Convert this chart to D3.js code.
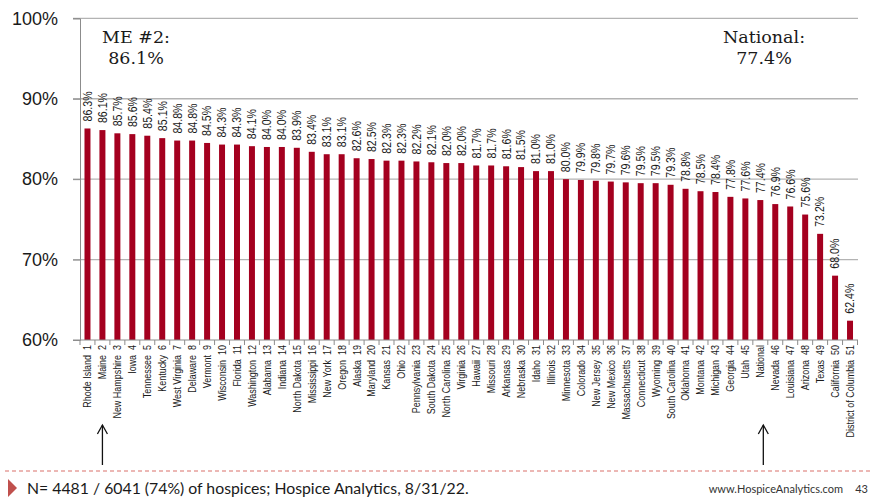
<!DOCTYPE html>
<html><head><meta charset="utf-8">
<script src="https://cdn.jsdelivr.net/npm/d3@7"></script>
<style>body{margin:0;background:#fff;} svg{display:block;}</style>
</head><body>
<svg id="chart" width="870" height="504"></svg>
<script>
const categories = ["Rhode Island 1","Maine 2","New Hampshire 3","Iowa 4","Tennessee 5","Kentucky 6","West Virginia 7","Delaware 8","Vermont 9","Wisconsin 10","Florida 11","Washington 12","Alabama 13","Indiana 14","North Dakota 15","Mississippi 16","New York 17","Oregon 18","Alaska 19","Maryland 20","Kansas 21","Ohio 22","Pennsylvania 23","South Dakota 24","North Carolina 25","Virginia 26","Hawaii 27","Missouri 28","Arkansas 29","Nebraska 30","Idaho 31","Illinois 32","Minnesota 33","Colorado 34","New Jersey 35","New Mexico 36","Massachusetts 37","Connecticut 38","Wyoming 39","South Carolina 40","Oklahoma 41","Montana 42","Michigan 43","Georgia 44","Utah 45","National","Nevada 46","Louisiana 47","Arizona 48","Texas 49","California 50","District of Columbia 51"];
const values = [86.3,86.1,85.7,85.6,85.4,85.1,84.8,84.8,84.5,84.3,84.3,84.1,84.0,84.0,83.9,83.4,83.1,83.1,82.6,82.5,82.3,82.3,82.2,82.1,82.0,82.0,81.7,81.7,81.6,81.5,81.0,81.0,80.0,79.9,79.8,79.7,79.6,79.5,79.5,79.3,78.8,78.5,78.4,77.8,77.6,77.4,76.9,76.6,75.6,73.2,68.0,62.4];
const yTicks = [60,70,80,90,100];
const annotations = [{cat:"Maine 2", lines:["ME #2:","86.1%"], cx:136},{cat:"National", lines:["National:","77.4%"], cx:764}];
const footerText = "N= 4481 / 6041 (74%) of hospices; Hospice Analytics, 8/31/22.";
const siteText = "www.HospiceAnalytics.com";
const pageNum = "43";

const svg = d3.select("#chart");
const x = d3.scaleBand().domain(categories).range([80, 857.5]).paddingInner(0.6).paddingOuter(0.3);
const y = d3.scaleLinear().domain([60, 100]).range([340, 18.3]);
const barColor = "#a4001f";

// gridlines
svg.append("g").selectAll("line").data(yTicks.filter(d=>d>60)).join("line")
  .attr("x1",73).attr("x2",858).attr("y1",d=>y(d)).attr("y2",d=>y(d))
  .attr("stroke","#b3b3b3").attr("stroke-width",1.3);

// y axis
const yAxis = d3.axisLeft(y).tickValues(yTicks).tickSize(7).tickPadding(15).tickFormat(d=>d+"%");
const ya = svg.append("g").attr("transform","translate(80,0)").call(yAxis);
ya.select(".domain").attr("stroke","#8c8c8c");
ya.selectAll(".tick line").attr("stroke","#8c8c8c");
ya.selectAll("text").attr("font-family","Liberation Sans, Arial, sans-serif").attr("font-size",18).attr("fill","#1a1a1a");

// bars
svg.append("g").selectAll("rect").data(categories).join("rect")
  .attr("x",d=>x(d)).attr("width",x.bandwidth())
  .attr("y",(d,i)=>y(values[i])).attr("height",(d,i)=>y(60)-y(values[i]))
  .attr("fill",barColor);

// x axis baseline and ticks
svg.append("line").attr("x1",73).attr("x2",858).attr("y1",y(60)).attr("y2",y(60)).attr("stroke","#8c8c8c");
const bounds = categories.map(d=>x(d)+x.bandwidth()/2-x.step()/2).concat([x(categories[categories.length-1])+x.bandwidth()/2+x.step()/2]);
svg.append("g").selectAll("line").data(bounds).join("line")
  .attr("x1",d=>d).attr("x2",d=>d).attr("y1",y(60)).attr("y2",y(60)+5).attr("stroke","#8c8c8c");

// category labels (name and rank separated by a wider gap, as in the source)
svg.append("g").selectAll("text").data(categories).join("text")
  .attr("transform",d=>`translate(${x(d)+x.bandwidth()/2},${y(60)+5}) rotate(-90) scale(0.8,1)`)
  .attr("text-anchor","end").attr("dy","0.35em").style("white-space","pre")
  .attr("font-family","Liberation Sans, Arial, sans-serif").attr("font-size",11.2).attr("fill","#1a1a1a")
  .text(d=>d.replace(/ (\d+)$/,"  $1"));

// value labels
svg.append("g").selectAll("text").data(categories).join("text")
  .attr("transform",(d,i)=>`translate(${x(d)+x.bandwidth()/2},${y(values[i])-7}) rotate(-90) scale(0.85,1)`)
  .attr("text-anchor","start").attr("dy","0.35em")
  .attr("font-family","Liberation Sans, Arial, sans-serif").attr("font-size",12.5).attr("fill","#1a1a1a")
  .text((d,i)=>values[i].toFixed(1)+"%");

// annotations
annotations.forEach(a=>{
  const t = svg.append("text").attr("text-anchor","middle").attr("font-family","DejaVu Serif, serif").attr("font-size",17.5).attr("fill","#1a1a1a");
  a.lines.forEach((l,k)=>t.append("tspan").attr("x",a.cx).attr("y",43+k*21).text(l));
  const ax = x(a.cat)+x.bandwidth()/2+ (a.cat==="National"?3:0);
  svg.append("line").attr("x1",ax).attr("x2",ax).attr("y1",465).attr("y2",425).attr("stroke","#111").attr("stroke-width",1.3);
  svg.append("path").attr("d",`M${ax-5},${434} L${ax},${425} L${ax+5},${434}`).attr("fill","none").attr("stroke","#111").attr("stroke-width",1.3);
});

// footer
svg.append("line").attr("x1",5).attr("x2",870).attr("y1",471).attr("y2",471)
  .attr("stroke","#d9706b").attr("stroke-width",1.2).attr("stroke-dasharray","4,3");
svg.append("path").attr("d","M8,479 L17,488 L8,497 Z").attr("fill","#c0504d");
svg.append("text").attr("x",27).attr("y",494).attr("font-family","Lato, sans-serif").attr("font-size",15.8).attr("fill","#1a1a1a").text(footerText);
svg.append("text").attr("x",843).attr("y",493).attr("text-anchor","end").attr("font-family","Lato, sans-serif").attr("font-size",11).attr("fill","#333").text(siteText);
svg.append("text").attr("x",868).attr("y",493).attr("text-anchor","end").attr("font-family","Lato, sans-serif").attr("font-size",11).attr("fill","#333").text(pageNum);
</script>
</body></html>
